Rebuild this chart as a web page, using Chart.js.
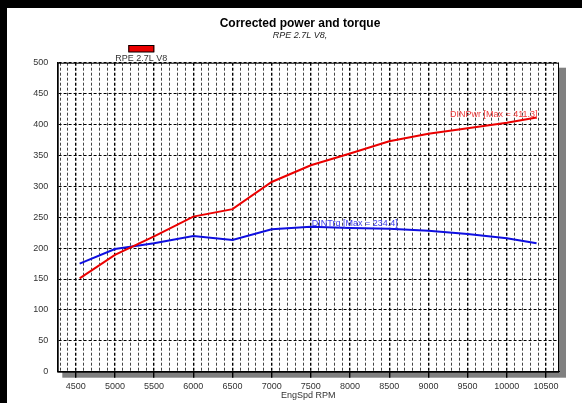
<!DOCTYPE html>
<html lang="en">
<head>
<meta charset="UTF-8">
<title>Corrected power and torque</title>
<style>
  html, body { margin: 0; padding: 0; background: #000; }
  #wrap { position: absolute; left: 7px; top: 8px; width: 575px; height: 395px; background: #fff; }
</style>
</head>
<body>
<div id="wrap"><canvas id="powerChart" width="575" height="395"></canvas></div>
<script src="https://cdn.jsdelivr.net/npm/chart.js"></script>
<script>
// values
const rpm = [4550, 5000, 5500, 6000, 6500, 7000, 7500, 8000, 8500, 9000, 9500, 10000, 10380];
const dinPwr = [151, 189, 219, 251, 263, 307, 334, 353, 373, 385, 394, 403, 411.3];
const dinTrq = [175, 198.5, 208, 219.6, 213, 230.4, 234.4, 232.5, 231.4, 228, 223, 216, 208];
const xTickLabels = [4500, 5000, 5500, 6000, 6500, 7000, 7500, 8000, 8500, 9000, 9500, 10000, 10500];
const yTickLabels = [0, 50, 100, 150, 200, 250, 300, 350, 400, 450, 500];
const runName = 'RPE 2.7L V8';

Chart.defaults.font.family = '"Liberation Sans", Arial, sans-serif';
Chart.defaults.color = '#333';

const FONT = '"Liberation Sans", Arial, sans-serif';

// gray drop shadow + black frame round the plot
const framePlugin = {
    id: 'frame',
    beforeDraw(chart) {
        const { ctx, chartArea: a } = chart;
        ctx.save();
        ctx.fillStyle = '#808080';
        ctx.fillRect(a.left + 5, a.top + 5, a.width + 2, a.height + 1);
        ctx.fillStyle = '#fff';
        ctx.fillRect(a.left, a.top, a.width, a.height);
        ctx.restore();
    },
    beforeDatasetsDraw(chart) {
        const { ctx, chartArea: a } = chart;
        ctx.save();
        ctx.strokeStyle = '#000';
        ctx.lineWidth = 1;
        ctx.strokeRect(a.left + 0.5, a.top + 0.5, a.width - 1, a.height);
        ctx.restore();
    }
};

// little swatch above the run name
const runLegend = {
    id: 'runLegend',
    afterDraw(chart) {
        const { ctx, chartArea: a } = chart;
        const cx = a.left + 84;
        ctx.save();
        ctx.fillStyle = chart.data.datasets[0].borderColor;
        ctx.fillRect(cx - 13, 37, 26, 7);
        ctx.strokeStyle = '#000';
        ctx.lineWidth = 1;
        ctx.strokeRect(cx - 12.5, 37.5, 25, 6.5);
        ctx.fillStyle = '#333';
        ctx.font = '9px ' + FONT;
        ctx.textAlign = 'center';
        ctx.textBaseline = 'middle';
        ctx.fillText(runName, cx, 50.5);
        ctx.restore();
    }
};

// "[Max = ...]" labels at each curve's peak
const maxLabels = {
    id: 'maxLabels',
    afterDatasetsDraw(chart) {
        const { ctx, chartArea: a } = chart;
        const xs = chart.scales.x, ys = chart.scales.y;
        chart.data.datasets.forEach(ds => {
            let k = 0;
            ds.data.forEach((p, j) => { if (p.y > ds.data[k].y) k = j; });
            const px = xs.getPixelForValue(ds.data[k].x);
            const py = ys.getPixelForValue(ds.data[k].y);
            const text = ds.label + ' [Max = ' + ds.data[k].y.toFixed(1) + ']';
            ctx.save();
            ctx.font = '9px ' + FONT;
            const w = ctx.measureText(text).width;
            ctx.textAlign = (px + w > a.right - 5) ? 'right' : 'left';
            ctx.textBaseline = 'alphabetic';
            ctx.fillStyle = ds.labelColor;
            ctx.fillText(text, px + 1, py - 1);
            ctx.restore();
        });
    }
};

const ctx = document.getElementById('powerChart').getContext('2d');
new Chart(ctx, {
    type: 'line',
    data: {
        datasets: [{
            label: 'DINPwr',
            data: rpm.map((x, i) => ({ x: x, y: dinPwr[i] })),
            borderColor: 'rgb(235, 0, 0)',
            labelColor: 'rgb(240, 60, 60)',
            borderWidth: 2,
            pointRadius: 0,
            tension: 0
        }, {
            label: 'DINTrq',
            data: rpm.map((x, i) => ({ x: x, y: dinTrq[i] })),
            borderColor: 'rgb(15, 15, 225)',
            labelColor: 'rgb(60, 60, 235)',
            borderWidth: 2,
            pointRadius: 0,
            tension: 0
        }]
    },
    options: {
        responsive: false,
        animation: false,
        layout: { padding: { top: 8, left: 11, right: 0, bottom: 0 } },
        plugins: {
            legend: { display: false },
            tooltip: { enabled: false },
            title: {
                display: true,
                text: 'Corrected power and torque',
                color: '#000',
                font: { size: 12, weight: 'bold' },
                padding: { top: 0, bottom: 0 }
            },
            subtitle: {
                display: true,
                text: 'RPE 2.7L V8,',
                color: '#222',
                font: { size: 9, style: 'italic' },
                padding: { top: 0, bottom: 21.5 }
            }
        },
        scales: {
            x: {
                type: 'linear',
                min: 4265,
                max: 10666,
                afterBuildTicks: scale => {
                    const t = [];
                    for (let v = 4300; v <= 10600; v += 100) t.push({ value: v });
                    scale.ticks = t;
                },
                afterFit: scale => { scale.height = 31.3; },
                ticks: {
                    autoSkip: false,
                    maxRotation: 0,
                    padding: 3,
                    font: { size: 9 },
                    color: '#333',
                    callback: v => xTickLabels.includes(v) ? String(v) : ''
                },
                grid: {
                    color: c => (c.tick && xTickLabels.includes(c.tick.value)) ? '#000' : '#444',
                    lineWidth: c => (c.tick && xTickLabels.includes(c.tick.value)) ? 1.4 : 1,
                    tickLength: 6,
                    tickColor: c => (c.tick && xTickLabels.includes(c.tick.value)) ? '#000' : 'rgba(0,0,0,0)',
                    tickWidth: 1.4
                },
                border: { display: true, color: '#000', width: 1, dash: [3, 2] },
                title: {
                    display: true,
                    text: 'EngSpd RPM',
                    color: '#333',
                    font: { size: 9 },
                    padding: { top: 0, bottom: 1.6 }
                }
            },
            y: {
                min: 0,
                max: 500,
                afterBuildTicks: scale => { scale.ticks = yTickLabels.map(v => ({ value: v })); },
                afterFit: scale => { scale.width = 39.3; },
                ticks: {
                    padding: 9,
                    font: { size: 9 },
                    color: '#333'
                },
                grid: {
                    color: '#000',
                    lineWidth: 1,
                    drawTicks: false
                },
                border: { display: true, color: '#000', width: 1.6, dash: [3, 2] }
            },
            // empty right-hand axis, only reserves the margin beside the shadow
            yRight: {
                position: 'right',
                display: true,
                afterFit: scale => { scale.width = 23; },
                ticks: { display: false },
                grid: { drawOnChartArea: false, drawTicks: false },
                border: { display: false }
            }
        }
    },
    plugins: [framePlugin, runLegend, maxLabels]
});
</script>
</body>
</html>
